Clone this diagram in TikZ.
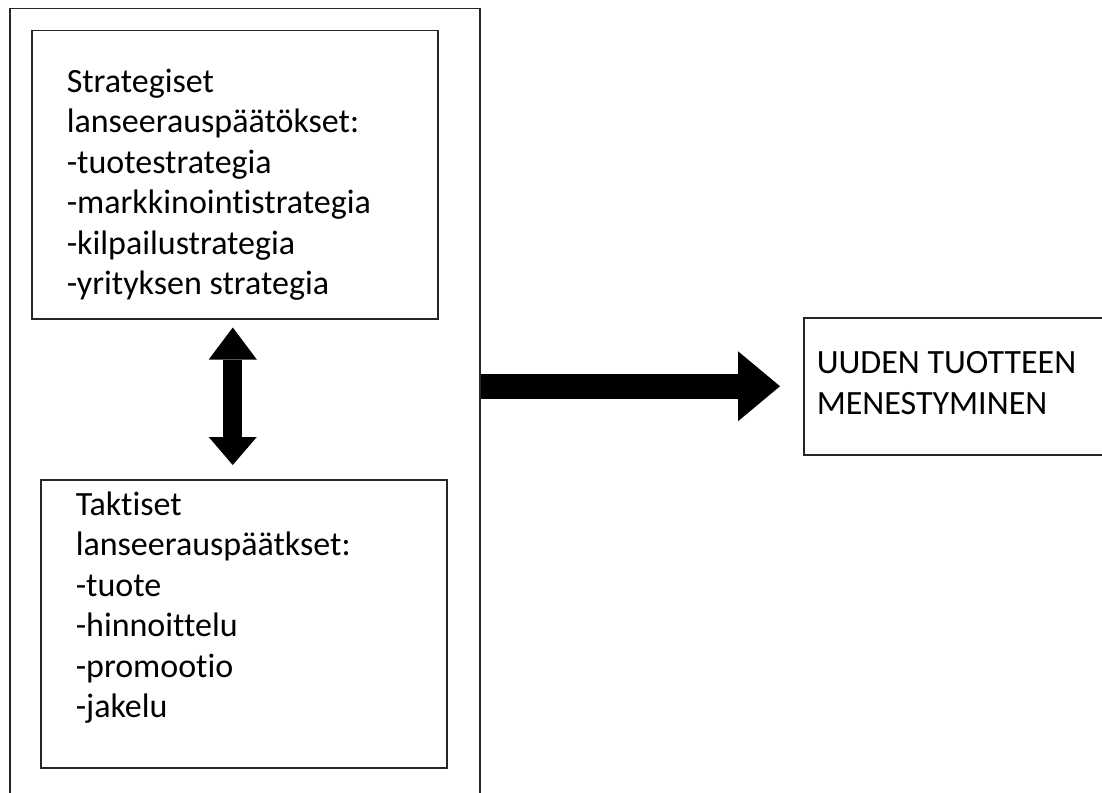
\documentclass[tikz,border=0pt]{standalone}
\usepackage{fontspec}
\setmainfont{Carlito}[RawFeature={-liga;-clig}]
\usepackage{tikz}
\usetikzlibrary{arrows.meta}
\tikzstyle{listbox} = [draw=black!85, line width=1.5pt, rectangle,
    anchor=north west, inner xsep=35pt, inner ysep=0pt,
    font=\fontsize{34pt}{40.5pt}\selectfont]
\tikzstyle{bigarrow} = [draw=black, line width=19pt]

\begin{document}
\begin{tikzpicture}[x=1pt, y=-1pt]
                \useasboundingbox (0,0) rectangle (1102,792);
                % outer frame, runs off the bottom of the page
                \node [draw=black!85, line width=1.5pt, anchor=north west,
                    minimum width=470pt, minimum height=820pt, inner sep=0pt] (frame) at (9,8) {};
                \node [listbox] (strat) at (31,30) {%
                    \begin{minipage}[t][288pt][t]{336pt}
                        \vspace*{38pt}Strategiset\\
                        lanseerauspäätökset:\\
                        -tuotestrategia\\
                        -markkinointistrategia\\
                        -kilpailustrategia\\
                        -yrityksen strategia
                    \end{minipage}
                };
                \node [listbox] (takt) at (40,479) {%
                    \begin{minipage}[t][288pt][t]{336pt}
                        \vspace*{12pt}Taktiset\\
                        lanseerauspäätkset:\\
                        -tuote\\
                        -hinnoittelu\\
                        -promootio\\
                        -jakelu
                    \end{minipage}
                };
                \node [listbox, inner xsep=13pt] (result) at (803,317) {%
                    \begin{minipage}[t][137pt][t]{300pt}
                        \vspace*{34pt}UUDEN TUOTTEEN\\
                        MENESTYMINEN
                    \end{minipage}
                };
                \draw [bigarrow, {Triangle[width=48pt, length=32pt, line width=0pt]}-{Triangle[width=48pt, length=28pt, line width=0pt]},
                    shorten <=8pt, shorten >=14pt]
                    ([xshift=-2pt]strat.south) -- ([xshift=-2pt]strat.south |- takt.north);
                \draw [bigarrow, line width=25pt, -{Triangle[width=70pt, length=42pt, line width=0pt]}, shorten >=23pt]
                    (frame.east |- result.west) -- (result.west);
            \end{tikzpicture}
\end{document}
